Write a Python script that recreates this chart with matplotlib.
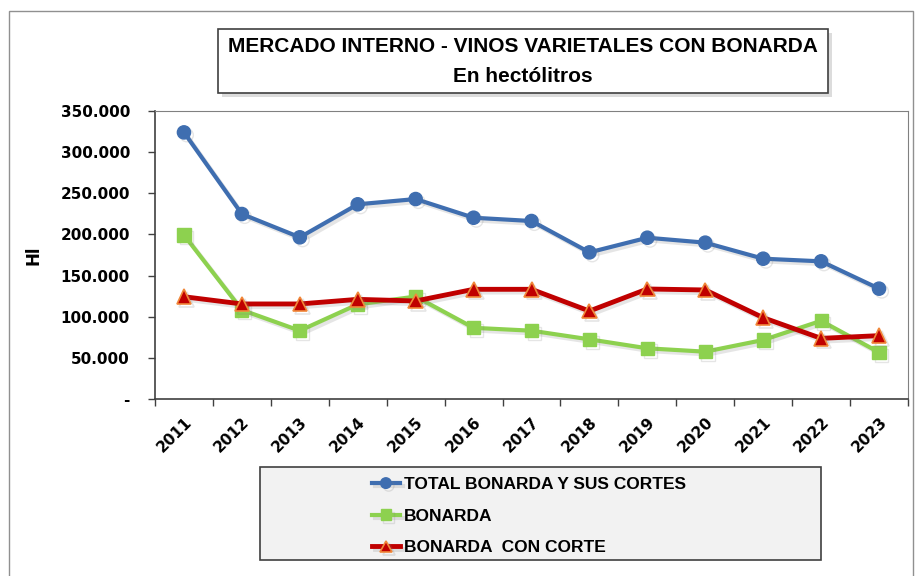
import matplotlib.pyplot as plt
import matplotlib.patheffects as pe
from matplotlib.patches import Rectangle
from matplotlib.ticker import FuncFormatter, FixedLocator

years = ['2011', '2012', '2013', '2014', '2015', '2016', '2017',
         '2018', '2019', '2020', '2021', '2022', '2023']
total = [324000, 224800, 196500, 236600, 243000, 220300, 216300,
         178200, 196000, 190000, 170500, 167300, 134100]
bonarda = [199300, 108200, 83000, 115000, 124500, 86500, 83000,
           72500, 61600, 57500, 71700, 95000, 56700]
con_corte = [124300, 115500, 115500, 121100, 119100, 133300, 133300,
             106900, 133700, 132500, 98800, 73700, 77000]

title_lines = ['MERCADO INTERNO - VINOS VARIETALES CON BONARDA', 'En hectólitros']
series_names = ['TOTAL BONARDA Y SUS CORTES', 'BONARDA', 'BONARDA  CON CORTE']

sans = ['Liberation Sans', 'DejaVu Sans']

fig = plt.figure(figsize=(9.15, 5.76), dpi=100)
ax = fig.add_axes([155 / 915, 1 - 399 / 576, 753 / 915, 288 / 576])

shadow = [pe.SimpleLineShadow(offset=(2, -2), alpha=0.2, shadow_color='gray'), pe.Normal()]
x = list(range(len(years)))

ax.plot(x, total, color='#3F6EB0', lw=3, marker='o', ms=9.5,
        label=series_names[0], path_effects=shadow, zorder=3)
ax.plot(x, bonarda, color='#8DD14F', lw=3, marker='s', ms=9.5,
        label=series_names[1], path_effects=shadow, zorder=3)
ax.plot(x, con_corte, color='#C00000', lw=3.5, marker='^', ms=10.5,
        markerfacecolor='#C00000', markeredgecolor='#F0883A', markeredgewidth=1.2,
        label=series_names[2], path_effects=shadow, zorder=4)

ax.set_xlim(-0.5, len(years) - 0.5)
ax.set_ylim(0, 350000)
ax.set_yticks(range(0, 350001, 50000))


def fmt(v, pos):
    if v == 0:
        return '-'
    return f'{int(v):,}'.replace(',', '.')


ax.yaxis.set_major_formatter(FuncFormatter(fmt))
ax.xaxis.set_major_locator(FixedLocator([i - 0.5 for i in range(len(years) + 1)]))
ax.xaxis.set_major_formatter(FuncFormatter(lambda v, p: ''))
ax.xaxis.set_minor_locator(FixedLocator(x))
ax.set_xticklabels(years, minor=True, rotation=45, ha='right', va='top',
                   rotation_mode='anchor', fontsize=11, fontweight='bold')
ax.tick_params(axis='x', which='minor', length=0, pad=11)
ax.tick_params(axis='x', which='major', length=5, width=1, color='#404040', direction='out')
ax.tick_params(axis='y', length=5, width=1, color='#404040', labelsize=11, pad=13)
for lab in ax.get_yticklabels():
    lab.set_fontweight('bold')

for side in ['top', 'right']:
    ax.spines[side].set_color('#808080')
for side in ['left', 'bottom']:
    ax.spines[side].set_color('#404040')
    ax.spines[side].set_linewidth(1.2)

ax.set_ylabel('Hl', fontsize=12, fontweight='bold', labelpad=13)

# outer frame
fig.patches.append(Rectangle((9 / 915, -0.01), 904 / 915, 1 - 11 / 576 + 0.01,
                             transform=fig.transFigure, fill=False,
                             edgecolor='#909090', lw=1))

# title box with shadow
tx0, tx1, ty0, ty1 = 218, 828, 29, 93
fig.patches.append(Rectangle(((tx0 + 4) / 915, 1 - (ty1 + 4) / 576), (tx1 - tx0) / 915,
                             (ty1 - ty0) / 576, transform=fig.transFigure,
                             facecolor='#dcdcdc', edgecolor='none', zorder=1))
fig.patches.append(Rectangle((tx0 / 915, 1 - ty1 / 576), (tx1 - tx0) / 915,
                             (ty1 - ty0) / 576, transform=fig.transFigure,
                             facecolor='white', edgecolor='#404040', lw=1.2, zorder=2))
fig.text((tx0 + tx1) / 2 / 915, 1 - 47 / 576, title_lines[0], ha='center', va='center',
         fontsize=15, fontweight='bold', family=sans, zorder=3)
fig.text((tx0 + tx1) / 2 / 915, 1 - 76 / 576, title_lines[1], ha='center', va='center',
         fontsize=15, fontweight='bold', family=sans, zorder=3)

# legend box
fig.patches.append(Rectangle((260 / 915, 1 - 560 / 576), 561 / 915, 93 / 576,
                             transform=fig.transFigure, facecolor='#F2F2F2',
                             edgecolor='#404040', lw=1.2, zorder=0))
lg = fig.legend(loc='upper left', bbox_to_anchor=(372 / 915, 1 - 477 / 576),
                bbox_transform=fig.transFigure, frameon=False,
                prop={'family': sans, 'weight': 'bold', 'size': 12.5},
                handlelength=1.6, handletextpad=0.25, labelspacing=0.95,
                borderaxespad=0, borderpad=0, markerscale=0.8)

fig.savefig('out.png', dpi=100)
